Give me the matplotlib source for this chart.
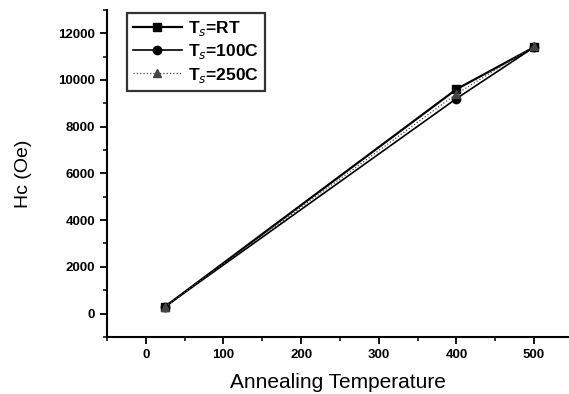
import matplotlib
matplotlib.use('Agg')
import matplotlib.pyplot as plt
from matplotlib.ticker import MultipleLocator

temps = [25, 400, 500]
hc_rt = [300, 9600, 11400]
hc_100 = [300, 9200, 11400]
hc_250 = [300, 9400, 11450]

plt.rcParams['font.family'] = ['Liberation Sans', 'DejaVu Sans']

fig = plt.figure(figsize=(5.69, 3.94), dpi=100)
ax = fig.add_axes([0.188, 0.145, 0.812, 0.83])

ax.plot(temps, hc_rt, color='black', lw=1.6, marker='s', ms=6, label='T$_s$=RT')
ax.plot(temps, hc_100, color='black', lw=1.2, marker='o', ms=6, label='T$_s$=100C')
ax.plot(temps, hc_250, color='#444444', lw=0.9, ls=':', marker='^', ms=6, label='T$_s$=250C')

ax.set_xlim(-50, 545)
ax.set_ylim(-1000, 13000)
ax.xaxis.set_major_locator(MultipleLocator(100))
ax.xaxis.set_minor_locator(MultipleLocator(50))
ax.yaxis.set_major_locator(MultipleLocator(2000))
ax.yaxis.set_minor_locator(MultipleLocator(1000))

for s in ['top', 'right']:
    ax.spines[s].set_visible(False)
for s in ['left', 'bottom']:
    ax.spines[s].set_linewidth(1.5)

ax.tick_params(which='major', direction='out', length=5, width=1.3, labelsize=9.5)
ax.tick_params(which='minor', direction='out', length=3, width=1.1)
for lbl in ax.get_xticklabels() + ax.get_yticklabels():
    lbl.set_fontweight('bold')

ax.set_xlabel('Annealing Temperature', fontsize=15, labelpad=9)
ax.set_ylabel('Hc (Oe)', fontsize=14, labelpad=19)

leg = ax.legend(loc='upper left', bbox_to_anchor=(0.043, 0.991), borderaxespad=0,
                fancybox=False, edgecolor='black', fontsize=12.5, handlelength=2.8,
                borderpad=0.35, labelspacing=0.25, handletextpad=0.4)
leg.get_frame().set_linewidth(1.6)
for t in leg.get_texts():
    t.set_fontweight('bold')

fig.savefig('out.png', dpi=100)
